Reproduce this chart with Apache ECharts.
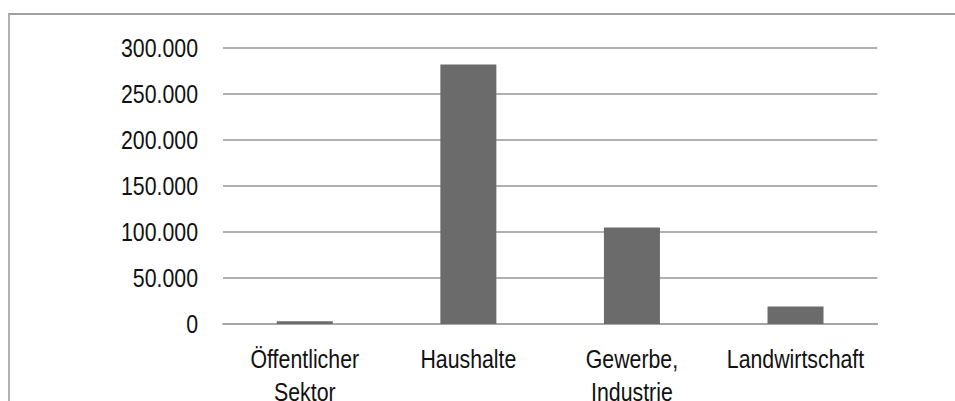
<!DOCTYPE html>
<html>
<head>
<meta charset="utf-8">
<script src="https://cdn.jsdelivr.net/npm/echarts@6/dist/echarts.min.js"></script>
<style>
  html, body { margin: 0; padding: 0; background: #fff; overflow: hidden; }
  #wrap { width: 955px; height: 401px; overflow: hidden; }
  /* The chart is laid out wide and squeezed horizontally, giving a narrow typeface look */
  #chart { width: 1165px; height: 401px; transform: scaleX(0.82); transform-origin: 0 0; }
</style>
</head>
<body>
<div id="wrap"><div id="chart"></div></div>
<script>
// Sectors and their values
const categories = ['Öffentlicher\nSektor', 'Haushalte', 'Gewerbe,\nIndustrie', 'Landwirtschaft'];
const values = [3000, 282000, 105000, 19000];
const yTicks = { min: 0, max: 300000, step: 50000 };

const SX = 0.82; // horizontal squeeze factor
const FONT = '"Liberation Sans", Arial, sans-serif';

function formatThousands(v) {
  return String(v).replace(/\B(?=(\d{3})+(?!\d))/g, '.');
}

const chart = echarts.init(document.getElementById('chart'), null, { renderer: 'svg' });
chart.setOption({
  animation: false,
  backgroundColor: '#ffffff',
  graphic: [{
    type: 'rect',
    shape: { x: 9 / SX, y: 14, width: 1400, height: 500 },
    style: { fill: 'none', stroke: '#a0a0a0', lineWidth: 2 },
    silent: true
  }],
  grid: {
    left: 223 / SX, right: 78 / SX, top: 48, height: 276,
    containLabel: false, outerBoundsMode: 'none'
  },
  xAxis: {
    type: 'category',
    data: categories,
    axisLine: { show: true, lineStyle: { color: '#a6a6a6', width: 2 } },
    axisTick: { show: false },
    axisLabel: {
      color: '#111',
      fontFamily: FONT,
      fontSize: 26,
      lineHeight: 33,
      margin: 18,
      interval: 0
    },
    splitLine: { show: false }
  },
  yAxis: {
    type: 'value',
    min: yTicks.min,
    max: yTicks.max,
    interval: yTicks.step,
    axisLine: { show: false },
    axisTick: { show: false },
    axisLabel: {
      color: '#111',
      fontFamily: FONT,
      fontSize: 26,
      margin: 25 / SX,
      formatter: formatThousands
    },
    splitLine: { show: true, lineStyle: { color: '#b0b0b0', width: 2 } }
  },
  series: [{
    type: 'bar',
    data: values,
    barWidth: 56 / SX,
    itemStyle: { color: '#6b6b6b' }
  }]
});
</script>
</body>
</html>
